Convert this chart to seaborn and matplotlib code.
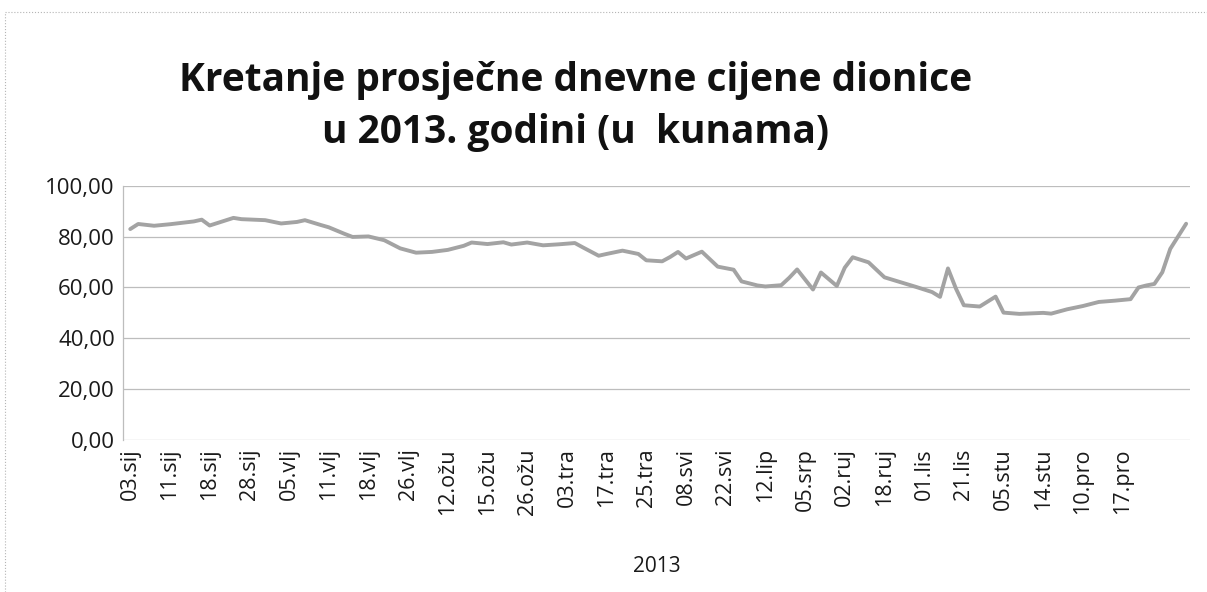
import matplotlib
matplotlib.use("Agg")
import matplotlib.pyplot as plt
import seaborn as sns
import pandas as pd
from matplotlib.lines import Line2D

# trading-day index (category position) and average daily price (kn)
day_index = [0, 1, 3, 5, 8, 9, 10, 11, 13, 14, 17, 19, 21, 22, 24, 25, 26, 27, 28, 30,
             32, 34, 36, 38, 40, 42, 43, 45, 47, 48, 50, 52, 54, 56, 57, 59, 60, 62, 64, 65,
             67, 68, 69, 70, 72, 74, 76, 77, 79, 80, 82, 83, 84, 86, 87, 89, 90, 91, 93, 95,
             97, 99, 101, 102, 103, 104, 105, 107, 109, 110, 112, 115, 116, 118, 120, 122, 124, 126, 127, 128,
             129, 130, 131, 133]
price = [83.0, 85.0, 84.3, 84.9, 86.0, 86.7, 84.4, 85.4, 87.4, 86.9, 86.5, 85.2, 85.8, 86.5, 84.6, 83.7, 82.4, 81.1, 79.9, 80.1,
         78.6, 75.4, 73.7, 74.0, 74.8, 76.4, 77.7, 77.1, 77.8, 76.9, 77.7, 76.6, 77.0, 77.5, 75.8, 72.5, 73.2, 74.5, 73.2, 70.7,
         70.3, 72.0, 74.0, 71.4, 74.1, 68.2, 67.0, 62.4, 60.8, 60.4, 60.9, 63.8, 67.1, 59.2, 65.9, 60.6, 67.8, 71.9, 69.9, 64.0,
         62.1, 60.2, 58.2, 56.3, 67.5, 59.6, 53.0, 52.5, 56.4, 50.1, 49.6, 50.0, 49.7, 51.4, 52.7, 54.3, 54.8, 55.4, 60.0, 60.8,
         61.4, 66.0, 75.2, 85.1]

tick_labels = ["03.sij", "11.sij", "18.sij", "28.sij", "05.vlj", "11.vlj", "18.vlj", "26.vlj",
               "12.ožu", "15.ožu", "26.ožu", "03.tra", "17.tra", "25.tra", "08.svi", "22.svi",
               "12.lip", "05.srp", "02.ruj", "18.ruj", "01.lis", "21.lis", "05.stu", "14.stu",
               "10.pro", "17.pro"]
label_step = 5
y_ticks = [0, 20, 40, 60, 80, 100]
title_text = "Kretanje prosječne dnevne cijene dionice\nu 2013. godini (u  kunama)"
x_title = "2013"

df = pd.DataFrame({"day": day_index, "price": price})

sns.set_theme(style="white")
plt.rcParams["font.family"] = ["Open Sans", "DejaVu Sans"]

fig = plt.figure(figsize=(12.07, 5.92), dpi=100)
ax = fig.add_axes([0.102, 0.257, 0.884, 0.429])

for yv in y_ticks:
    ax.axhline(yv, color="#bdbdbd", lw=0.9, zorder=0)

sns.lineplot(data=df, x="day", y="price", ax=ax, color="#a3a3a3", lw=2.8, zorder=3)

ax.set_xlim(-0.9, 133.5)
ax.set_ylim(0, 100)
ax.set_yticks(y_ticks)
ax.set_yticklabels([f"{v:.2f}".replace(".", ",") for v in y_ticks], fontsize=16, color="#1a1a1a")
ax.set_xticks([i * label_step for i in range(len(tick_labels))])
ax.set_xticklabels(tick_labels, rotation=90, fontsize=15.5, color="#1a1a1a")
ax.tick_params(axis="both", length=0, pad=6)
ax.set_xlabel(x_title, fontsize=15, color="#1a1a1a", labelpad=30)
ax.set_ylabel("")

for side in ["top", "right", "bottom"]:
    ax.spines[side].set_visible(False)
ax.spines["left"].set_color("#bdbdbd")
ax.spines["left"].set_linewidth(0.9)

fig.text(0.477, 0.82, title_text, ha="center", va="center", fontsize=28,
         fontweight="bold", color="#111111", linespacing=1.45)

# chart border (scanned frame, top and left)
fig.add_artist(Line2D([0.004, 1.0], [0.979, 0.979], transform=fig.transFigure, color="#b5b5b5", lw=0.8, ls=":"))
fig.add_artist(Line2D([0.004, 0.004], [0.0, 0.979], transform=fig.transFigure, color="#b5b5b5", lw=0.8, ls=":"))

fig.savefig("out.png", dpi=100)
